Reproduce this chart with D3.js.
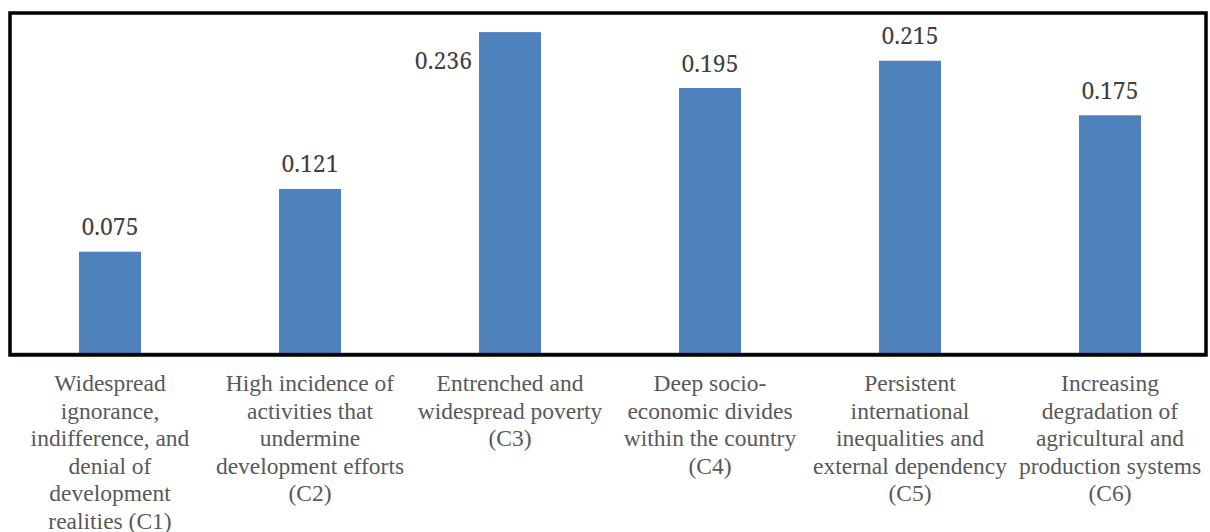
<!DOCTYPE html>
<html><head><meta charset="utf-8">
<script src="https://cdn.jsdelivr.net/npm/d3@7"></script>
<style>
body{margin:0;background:#fff}
svg{display:block}
svg text.val{font-family:"Noto Serif";font-size:23px}
svg text.cat{font-family:"Liberation Serif";font-size:23.5px}
</style>
</head><body>
<svg id="c" width="1210" height="532"></svg>
<script>
const categories = ["C1","C2","C3","C4","C5","C6"];
const values = [0.075, 0.121, 0.236, 0.195, 0.215, 0.175];
const labelLines = [
  ["Widespread","ignorance,","indifference, and","denial of","development","realities (C1)"],
  ["High incidence of","activities that","undermine","development efforts","(C2)"],
  ["Entrenched and","widespread poverty","(C3)"],
  ["Deep socio-","economic divides","within the country","(C4)"],
  ["Persistent","international","inequalities and","external dependency","(C5)"],
  ["Increasing","degradation of","agricultural and","production systems","(C6)"]
];
const valueLabels = ["0.075","0.121","0.236","0.195","0.215","0.175"];

const svg = d3.select("#c");
const x = d3.scaleBand().domain(categories).range([10,1210]).paddingInner(0.69).paddingOuter(0.345);
const y = d3.scaleLinear().domain([0,0.25]).range([354,13]);

svg.selectAll("rect.bar").data(values).join("rect")
  .attr("class","bar")
  .attr("x",(d,i)=>x(categories[i]))
  .attr("width",x.bandwidth())
  .attr("y",d=>y(d))
  .attr("height",d=>y(0)-y(d))
  .attr("fill","#4f81bd");

// baseline
svg.append("line").attr("x1",10).attr("x2",1206).attr("y1",y(0)-0.5).attr("y2",y(0)-0.5)
  .attr("stroke","#1f3050").attr("stroke-width",1.5);

// frame
svg.append("rect").attr("x",10).attr("y",13).attr("width",1196).attr("height",342)
  .attr("fill","none").attr("stroke","#000").attr("stroke-width",3.5);

// value labels
svg.selectAll("text.val").data(values).join("text")
  .attr("class","val")
  .attr("x",(d,i)=> i===2 ? x(categories[i]) - 7 : x(categories[i]) + x.bandwidth()/2)
  .attr("y",(d,i)=> i===2 ? y(d) + 37 : y(d) - 16.5)
  .attr("text-anchor",(d,i)=> i===2 ? "end" : "middle")
  .attr("fill","#404040")
  .text((d,i)=>valueLabels[i]);

// category labels
const g = svg.selectAll("text.cat").data(labelLines).join("text")
  .attr("class","cat")
  .attr("text-anchor","middle")
  .attr("fill","#595959");
g.each(function(lines,i){
  const cx = x(categories[i]) + x.bandwidth()/2;
  d3.select(this).selectAll("tspan").data(lines).join("tspan")
    .attr("x",cx).attr("y",(l,j)=>391 + j*27.6).text(l=>l);
});
</script>
</body></html>
